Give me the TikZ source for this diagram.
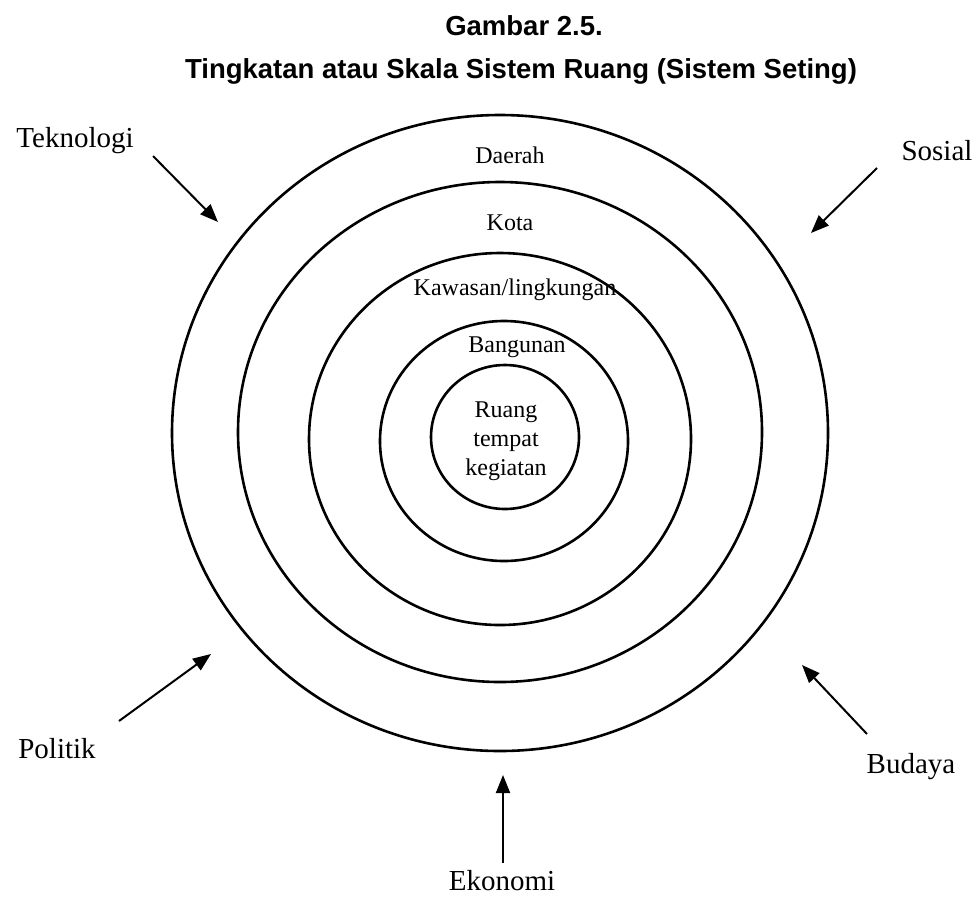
\documentclass[tikz,border=0pt]{standalone}
\usepackage{fontspec}
\setmainfont{Liberation Serif}
\newfontfamily\headfont{Liberation Sans}
\usepackage{tikz}
\usetikzlibrary{arrows.meta}

\begin{document}
\begin{tikzpicture}[x = .5pt, y = -.5pt,
  ring/.style = {line width = 1.3pt},
  push/.style = {line width = 1pt, -{Triangle[length = 9pt, width = 7pt]}},
  factor/.style = {font = \fontsize{14.5}{17}\selectfont, anchor = base, inner sep = 0pt},
  level/.style = {font = \fontsize{12}{14.5}\selectfont, align = center, inner sep = 0pt},
  heading/.style = {font = \headfont\bfseries\fontsize{13.75}{16}\selectfont, anchor = base, inner sep = 0pt}]
  \useasboundingbox (0, 0) rectangle (979, 906);
  \node[heading] (num) at (524, 35) {Gambar 2.5.};
  \node[heading] (title) at (521, 78) {Tingkatan atau Skala Sistem Ruang (Sistem Seting)};
  % rings, outside in
  \draw [ring] (500, 433) ellipse [x radius = 164pt, y radius = 159pt];
  \draw [ring] (500, 432) ellipse [x radius = 131pt, y radius = 125pt];
  \draw [ring] (500, 439) ellipse [x radius = 95.5pt, y radius = 93pt];
  \draw [ring] (504, 441) ellipse [x radius = 62pt, y radius = 60pt];
  \draw [ring] (505, 437) ellipse [x radius = 37pt, y radius = 36pt];
  \node[level] (daerah) at (510, 155) {Daerah};
  \node[level] (kota) at (510, 223) {Kota};
  \node[level] (kawasan) at (515, 290) {Kawasan/lingkungan};
  \node[level] (bangunan) at (517, 347) {Bangunan};
  \node[level] (ruang) at (506, 441) {Ruang\\tempat\\kegiatan};
  % outside factors
  \node[factor] (tek) at (75, 147) {Teknologi};
  \node[factor] (sos) at (937, 160) {Sosial};
  \node[factor] (pol) at (57, 758) {Politik};
  \node[factor] (bud) at (911, 773) {Budaya};
  \node[factor] (eko) at (502, 890) {Ekonomi};
  \coordinate (tekA) at (153, 156);
  \coordinate (tekB) at (218, 222);
  \coordinate (sosA) at (877, 168);
  \coordinate (sosB) at (811, 233);
  \coordinate (polA) at (119, 721);
  \coordinate (polB) at (211, 654);
  \coordinate (budA) at (867, 734);
  \coordinate (budB) at (802, 665);
  \coordinate (ekoA) at (503, 863);
  \coordinate (ekoB) at (503, 775);
  \draw [push] (tekA) -- (tekB);
  \draw [push] (sosA) -- (sosB);
  \draw [push] (polA) -- (polB);
  \draw [push] (budA) -- (budB);
  \draw [push] (ekoA) -- (ekoB);
\end{tikzpicture}
\end{document}
